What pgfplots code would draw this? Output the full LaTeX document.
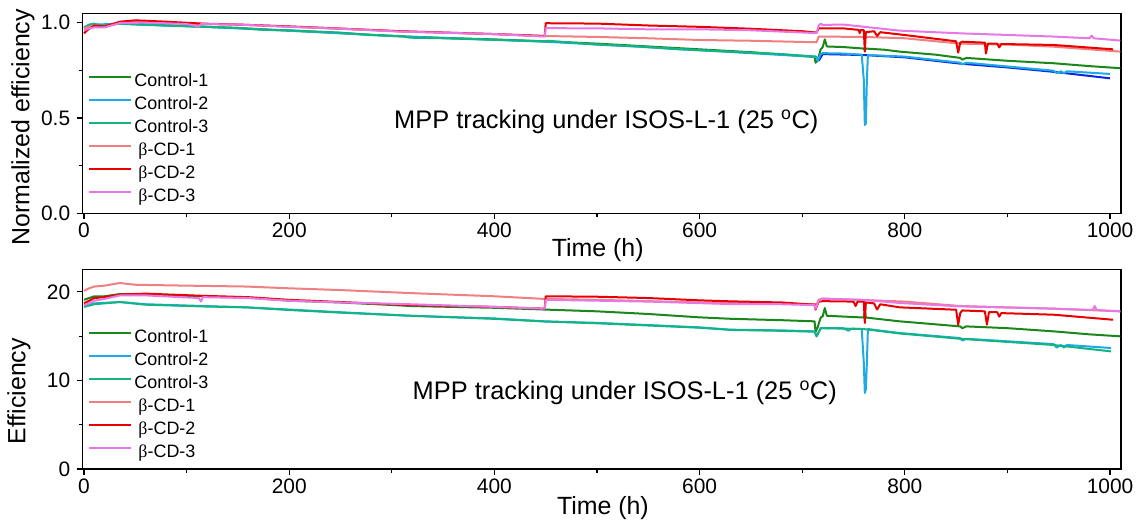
\documentclass[border=0pt]{standalone}
\usepackage{fontspec}
\setmainfont{Liberation Sans}
\newfontfamily\serifb{Liberation Serif}
\usepackage{pgfplots}
\pgfplotsset{compat=1.18}
\definecolor{cone}{RGB}{25,135,25}
\definecolor{ctwo}{RGB}{30,170,230}
\definecolor{cthree}{RGB}{20,180,130}
\definecolor{bone}{RGB}{240,128,128}
\definecolor{btwo}{RGB}{232,0,0}
\definecolor{bthree}{RGB}{230,120,230}
\definecolor{dblue}{RGB}{10,40,225}
\pgfplotsset{
  mystyle/.style={
    scale only axis, width=1038.3bp,
    xmin=-1.3, xmax=1010.7,
    xtick={0,200,...,1000}, minor xtick={100,300,...,900},
    tick align=outside, xtick pos=lower, ytick pos=left,
    major tick length=6bp, minor tick length=4bp,
    /pgf/number format/assume math mode=true,
    /pgf/number format/1000 sep={},
    axis line style={line width=1.2bp}, every tick/.style={line width=1.1bp, black},
    tick label style={font=\fontsize{21}{21}\selectfont},
    yticklabel style={xshift=-3bp},
    legend style={draw=none, fill=none, font=\fontsize{18}{18}\selectfont,
      legend cell align=left, row sep=2bp, inner sep=0pt,
      nodes={inner sep=2bp, text height=13bp, text depth=4bp}},
    legend image code/.code={\draw[#1, line width=2.4bp] (0bp,5bp) -- (42bp,5bp);},
    every axis plot/.append style={line width=2bp, line join=round, no marks},
  }
}
\begin{document}
\begin{tikzpicture}
\useasboundingbox (0,0) rectangle (1142bp,-529bp);
% ---------------- top ----------------
\begin{axis}[mystyle, at={(82.7bp,-213.3bp)}, anchor=south west, height=200bp,
  ymin=0, ymax=1.049, ytick={0,0.5,1.0}, minor ytick={0.25,0.75},
  yticklabel style={/pgf/number format/.cd, fixed, fixed zerofill, precision=1},
  xlabel={Time (h)}, ylabel={Normalized efficiency},
  every axis x label/.style={at={(axis description cs:0.496,0)}, anchor=center, yshift=-37bp, font=\fontsize{25}{25}\selectfont},
  every axis y label/.style={at={(axis description cs:-0.0575,0.43)}, anchor=center, rotate=90, font=\fontsize{25}{25}\selectfont},
  legend style={at={(axis description cs:0.005,0.71)}, anchor=north west}]
\addplot[cone] coordinates {(0,0.97)(5,0.985)(10,0.99)(20,0.985)(35,0.995)(60,0.99)(100,0.982)(150,0.972)(200,0.958)(250,0.945)(300,0.93)(350,0.92)(400,0.912)(449,0.902)(500,0.89)(550,0.875)(600,0.86)(650,0.845)(700,0.825)(712,0.82)(713,0.79)(715,0.80)(718,0.86)(720,0.872)(722,0.912)(724,0.875)(740,0.872)(760,0.864)(761,0.855)(762,0.864)(780,0.858)(795,0.848)(830,0.832)(854,0.815)(856,0.806)(860,0.815)(900,0.80)(945,0.787)(980,0.772)(1010,0.761)};
\addlegendentry{Control-1}
\addplot[dblue, forget plot] coordinates {(716,0.80)(720,0.835)(760,0.83)(800,0.818)(854,0.785)(900,0.765)(945,0.742)(1000,0.708)};
\addplot[ctwo] coordinates {(0,0.972)(10,0.99)(35,0.994)(60,0.988)(116,0.978)(200,0.958)(308,0.928)(449,0.90)(540,0.874)(630,0.846)(714,0.82)(715,0.80)(718,0.835)(720,0.84)(740,0.838)(758,0.832)(760,0.70)(761,0.463)(762,0.47)(763,0.70)(764,0.83)(800,0.822)(854,0.79)(856,0.78)(860,0.79)(900,0.77)(945,0.748)(948,0.735)(952,0.745)(955,0.735)(958,0.745)(1000,0.731)};
\addlegendentry{Control-2}
\addplot[cthree] coordinates {(0,0.975)(5,0.99)(10,0.995)(15,0.985)(25,0.99)(35,0.995)(60,0.99)(80,0.985)(116,0.979)(150,0.972)(175,0.962)(200,0.96)(250,0.948)(280,0.935)(308,0.93)(318,0.921)(350,0.918)(400,0.91)(449,0.902)(452,0.905)(500,0.885)(540,0.875)(580,0.86)(630,0.848)(680,0.835)(714,0.822)};
\addlegendentry{Control-3}
\addplot[bone] coordinates {(0,0.97)(5,0.98)(10,0.985)(20,0.98)(35,1.0)(60,1.005)(100,0.995)(116,0.993)(150,0.99)(200,0.98)(250,0.97)(308,0.955)(350,0.948)(400,0.94)(449,0.93)(500,0.925)(550,0.918)(600,0.909)(650,0.905)(714,0.897)(716,0.927)(760,0.925)(800,0.918)(854,0.89)(900,0.885)(945,0.874)(1010,0.848)};
\addlegendentry{\hspace{4bp}{\serifb β}-CD-1}
\addplot[btwo] coordinates {(0,0.944)(3,0.96)(10,0.985)(20,0.98)(35,1.005)(50,1.012)(60,1.01)(80,1.005)(116,0.995)(150,0.99)(200,0.98)(250,0.968)(308,0.955)(400,0.94)(449,0.93)(450,0.997)(500,0.995)(550,0.985)(600,0.978)(650,0.968)(700,0.955)(714,0.948)(716,0.97)(740,0.97)(755,0.962)(756,0.945)(757,0.962)(760,0.96)(761,0.848)(762,0.95)(770,0.955)(773,0.93)(776,0.95)(800,0.935)(850,0.902)(852,0.843)(854,0.895)(856,0.9)(878,0.895)(879,0.838)(881,0.89)(890,0.89)(892,0.87)(894,0.888)(945,0.883)(1003,0.86)};
\addlegendentry{\hspace{4bp}{\serifb β}-CD-2}
\addplot[bthree] coordinates {(0,0.96)(5,0.97)(10,0.975)(20,0.975)(35,0.998)(60,1.0)(100,0.993)(112,0.98)(114,0.993)(150,0.99)(200,0.978)(250,0.968)(308,0.953)(400,0.94)(449,0.927)(450,0.971)(500,0.97)(550,0.965)(600,0.965)(650,0.96)(714,0.945)(716,0.985)(718,0.995)(720,0.988)(740,0.99)(795,0.958)(854,0.944)(945,0.927)(980,0.918)(982,0.932)(984,0.918)(1010,0.906)};
\addlegendentry{\hspace{4bp}{\serifb β}-CD-3}
\node[font=\fontsize{25.5}{25.5}\selectfont] at (axis cs:509,0.48) {MPP tracking under ISOS-L-1 (25 \textsuperscript{o}C)};
\end{axis}
% ---------------- bottom ----------------
\begin{axis}[mystyle, at={(82.7bp,-469bp)}, anchor=south west, height=199.3bp,
  ymin=0, ymax=22.5, ytick={0,10,20}, minor ytick={5,15},
  xlabel={Time (h)}, ylabel={Efficiency},
  every axis x label/.style={at={(axis description cs:0.501,0)}, anchor=center, yshift=-39bp, font=\fontsize{25}{25}\selectfont},
  every axis y label/.style={at={(axis description cs:-0.0613,0.39)}, anchor=center, rotate=90, font=\fontsize{25}{25}\selectfont},
  legend style={at={(axis description cs:0.005,0.71)}, anchor=north west}]
\addplot[cone] coordinates {(0,19.1)(5,19.3)(10,19.5)(20,19.5)(35,19.75)(60,19.7)(116,19.5)(160,19.35)(200,19.0)(250,18.8)(308,18.47)(318,18.4)(400,18.2)(449,18.0)(500,17.8)(550,17.5)(600,17.12)(630,16.96)(680,16.8)(712,16.67)(713,15.5)(715,16.0)(718,17.1)(720,17.25)(722,18.17)(724,17.3)(760,17.1)(761,17.8)(762,17.1)(795,16.67)(854,16.1)(856,15.9)(860,16.1)(900,15.9)(945,15.54)(980,15.2)(1010,14.98)};
\addlegendentry{Control-1}
\addplot[ctwo] coordinates {(0,18.4)(10,18.7)(35,18.85)(60,18.6)(116,18.4)(158,18.25)(200,18.0)(250,17.7)(318,17.3)(400,17.0)(449,16.67)(500,16.5)(550,16.25)(600,15.99)(630,15.73)(680,15.65)(712,15.54)(714,15.0)(718,15.9)(740,15.9)(745,15.6)(748,15.85)(758,15.8)(760,12)(761,8.58)(762,9)(763,12)(764,15.8)(795,15.35)(854,14.78)(856,14.5)(860,14.7)(945,14.1)(948,13.7)(952,14.0)(955,13.7)(958,14.0)(1001,13.66)};
\addlegendentry{Control-2}
\addplot[cthree] coordinates {(0,18.3)(10,18.6)(35,18.85)(60,18.55)(116,18.35)(158,18.25)(200,17.95)(250,17.65)(318,17.3)(400,16.95)(449,16.65)(500,16.45)(550,16.2)(600,15.95)(630,15.7)(680,15.6)(712,15.5)(714,14.98)(718,15.9)(760,15.8)(795,15.3)(854,14.7)(945,14.0)(1001,13.28)};
\addlegendentry{Control-3}
\addplot[bone] coordinates {(0,20.13)(5,20.4)(10,20.6)(20,20.7)(35,21.0)(50,20.8)(100,20.7)(158,20.6)(200,20.4)(250,20.2)(318,19.86)(400,19.5)(449,19.2)(450,19.2)(500,19.1)(600,18.8)(714,18.6)(716,19.1)(720,19.25)(800,18.9)(854,18.4)(945,18.1)(1010,17.8)};
\addlegendentry{\hspace{4bp}{\serifb β}-CD-1}
\addplot[btwo] coordinates {(0,18.7)(5,19.0)(10,19.3)(20,19.4)(35,19.7)(60,19.8)(116,19.55)(160,19.4)(200,19.1)(250,18.85)(318,18.5)(400,18.3)(449,18.1)(450,19.5)(500,19.45)(550,19.3)(600,19.04)(630,18.93)(680,18.8)(712,18.55)(713,18.0)(716,18.9)(720,18.95)(750,18.9)(752,18.4)(754,18.9)(760,18.9)(761,16.48)(762,18.8)(770,18.7)(773,18.0)(776,18.6)(795,18.25)(850,17.98)(852,16.29)(854,17.6)(856,17.9)(878,17.8)(880,16.3)(882,17.7)(890,17.7)(892,17.2)(894,17.6)(945,17.42)(1003,16.85)};
\addlegendentry{\hspace{4bp}{\serifb β}-CD-2}
\addplot[bthree] coordinates {(0,18.5)(5,18.7)(10,19.0)(20,19.2)(35,19.6)(60,19.6)(112,19.3)(114,18.9)(116,19.4)(160,19.3)(200,19.0)(250,18.8)(318,18.6)(400,18.3)(449,18.1)(450,19.1)(500,19.0)(550,18.9)(630,18.62)(680,18.6)(712,18.5)(713,18.1)(716,19.0)(720,19.2)(760,19.1)(795,18.74)(854,18.36)(945,18.1)(983,17.95)(985,18.4)(987,17.95)(1010,17.8)};
\addlegendentry{\hspace{4bp}{\serifb β}-CD-3}
\node[font=\fontsize{25.5}{25.5}\selectfont] at (axis cs:527,8.58) {MPP tracking under ISOS-L-1 (25 \textsuperscript{o}C)};
\end{axis}
\end{tikzpicture}
\end{document}
